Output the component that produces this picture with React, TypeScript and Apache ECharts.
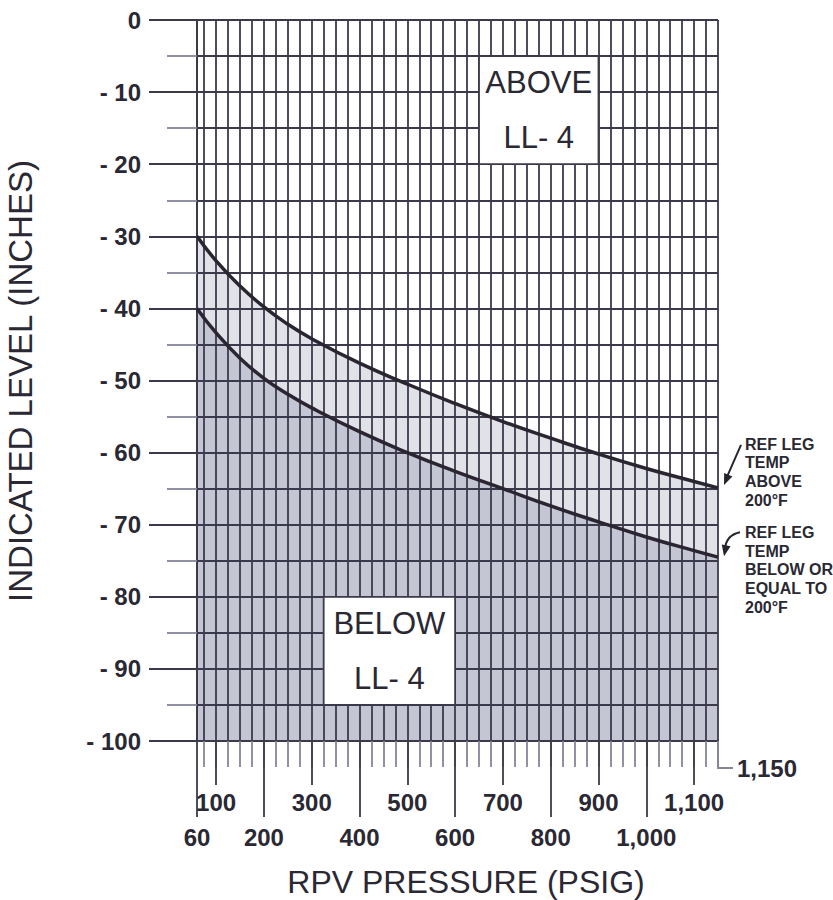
import React, { useEffect, useRef } from 'react';
import * as echarts from 'echarts';

// ---- data ----
const pressure = [60, 100, 150, 200, 250, 300, 400, 500, 600, 700, 800, 900, 1000, 1100, 1150];
const levelAbove200F = [-30, -33.4, -36.9, -39.8, -42.2, -44.2, -47.6, -50.5, -53.2, -55.7, -58.0, -60.2, -62.2, -64.0, -64.9];
const levelBelow200F = [-40, -43.4, -46.9, -49.7, -51.9, -53.8, -57.1, -60.0, -62.6, -65.0, -67.4, -69.6, -71.7, -73.6, -74.5];

// tick values
const gridPressures = [75, 100, 125, 150, 175, 200, 225, 250, 275, 300, 325, 350, 375, 400, 425, 450, 475, 500, 525, 550, 575, 600, 625, 650, 675, 700, 725, 750, 775, 800, 825, 850, 875, 900, 925, 950, 975, 1000, 1025, 1050, 1075, 1100, 1125, 1150];
const upperRowTicks = [100, 300, 500, 700, 900, 1100];
const lowerRowTicks = [60, 200, 400, 600, 800, 1000];
const endTick = [1150];

// region labels
const regionLabels = ['ABOVE\nLL- 4', 'BELOW\nLL- 4'];
const regionPressureRanges = [[650, 900], [325, 600]];
const regionLevelRanges = [[-5, -20], [-80, -95]];

const curveNotes = ['REF LEG\nTEMP\nABOVE\n200°F', 'REF LEG\nTEMP\nBELOW OR\nEQUAL TO\n200°F'];

const FONT = '"Liberation Sans", Arial, Helvetica, sans-serif';
const TEXT = '#2a2833';
const GRID = '#3a3a4c';
const LIGHT_TICK = '#85859a';

const fmt = (v: number) => v.toLocaleString('en-US');

export default function App() {
  const ref = useRef<HTMLDivElement>(null);
  useEffect(() => {
    if (!ref.current) return;
    const chart = echarts.init(ref.current, null, { renderer: 'svg' });
    const last = pressure.length - 1;

    const option: any = {
      animation: false,
      backgroundColor: '#ffffff',
      grid: { left: 197, right: 115, top: 20, bottom: 159, containLabel: false, outerBoundsMode: 'none' },
      xAxis: [
        {
          type: 'value', min: 60, max: 1150, position: 'bottom', z: 3,
          axisLine: { show: true, onZero: false, lineStyle: { color: GRID, width: 2 } },
          axisTick: { show: true, customValues: gridPressures, length: 26, lineStyle: { color: LIGHT_TICK, width: 1.8 } },
          axisLabel: { show: false },
          splitLine: { show: true, lineStyle: { color: GRID, width: 1.8 } },
        },
        {
          type: 'value', min: 60, max: 1150, position: 'bottom', z: 3,
          axisLine: { show: false, onZero: false },
          axisTick: { show: true, customValues: upperRowTicks, length: 44, lineStyle: { color: GRID, width: 1.8 } },
          axisLabel: {
            show: true, customValues: upperRowTicks, margin: 49, formatter: fmt,
            fontSize: 24, fontWeight: 'bold', fontFamily: FONT, color: TEXT,
          },
          splitLine: { show: false },
        },
        {
          type: 'value', min: 60, max: 1150, position: 'bottom', z: 3,
          axisLine: { show: false, onZero: false },
          axisTick: { show: true, customValues: lowerRowTicks, length: 76, lineStyle: { color: GRID, width: 1.8 } },
          axisLabel: {
            show: true, customValues: lowerRowTicks, margin: 84, formatter: fmt,
            fontSize: 24, fontWeight: 'bold', fontFamily: FONT, color: TEXT,
          },
          splitLine: { show: false },
        },
      ],
      yAxis: {
        type: 'value', min: -100, max: 0, interval: 10, z: 3,
        axisLine: { show: true, onZero: false, lineStyle: { color: GRID, width: 2 } },
        axisTick: { show: true, length: 48, lineStyle: { color: GRID, width: 1.8 } },
        minorTick: { show: true, splitNumber: 2, length: 30, lineStyle: { color: LIGHT_TICK, width: 1.8 } },
        splitLine: { show: true, lineStyle: { color: GRID, width: 1.8 } },
        minorSplitLine: { show: true, lineStyle: { color: GRID, width: 1.8 } },
        axisLabel: {
          margin: 56,
          formatter: (v: number) => (v === 0 ? '0' : '- ' + Math.abs(v)),
          fontSize: 24, fontWeight: 'bold', fontFamily: FONT, color: TEXT,
        },
      },
      graphic: [
        {
          type: 'text', x: 466, y: 882, z: 10,
          style: { text: 'RPV PRESSURE (PSIG)', fontSize: 32, fontFamily: FONT, fill: TEXT, align: 'center', verticalAlign: 'middle', textAlign: 'center', textVerticalAlign: 'middle' },
        },
        {
          type: 'text', x: 20, y: 381, rotation: Math.PI / 2, z: 10,
          style: { text: 'INDICATED LEVEL (INCHES)', fontSize: 33, fontFamily: FONT, fill: TEXT, align: 'center', verticalAlign: 'middle', textAlign: 'center', textVerticalAlign: 'middle' },
        },
      ],
      series: [
        {
          type: 'line', name: 'between', z: 1, silent: true, symbol: 'none', smooth: 0.5,
          data: pressure.map((p, i) => [p, levelAbove200F[i]]),
          lineStyle: { width: 0, opacity: 0 },
          areaStyle: { color: '#e1e1e8', opacity: 1, origin: 'start' },
        },
        {
          type: 'line', name: 'below', z: 1, silent: true, symbol: 'none', smooth: 0.5,
          data: pressure.map((p, i) => [p, levelBelow200F[i]]),
          lineStyle: { width: 0, opacity: 0 },
          areaStyle: { color: '#c4c6d4', opacity: 1, origin: 'start' },
        },
        {
          type: 'line', name: 'Ref leg temp above 200°F', z: 4, silent: true, symbol: 'none', smooth: 0.5,
          data: pressure.map((p, i) => [p, levelAbove200F[i]]),
          lineStyle: { color: '#2a2530', width: 3.5 },
        },
        {
          type: 'line', name: 'Ref leg temp below or equal to 200°F', z: 4, silent: true, symbol: 'none', smooth: 0.5,
          data: pressure.map((p, i) => [p, levelBelow200F[i]]),
          lineStyle: { color: '#2a2530', width: 3.5 },
        },
        {
          type: 'custom', name: 'regions', z: 6, silent: true, clip: false,
          data: regionPressureRanges.map((r, i) => [r[0], r[1], regionLevelRanges[i][0], regionLevelRanges[i][1]]),
          encode: { x: [0, 1], y: [2, 3] },
          renderItem: (params: any, api: any) => {
            const p1 = api.coord([api.value(0), api.value(2)]);
            const p2 = api.coord([api.value(1), api.value(3)]);
            const x = Math.min(p1[0], p2[0]);
            const y = Math.min(p1[1], p2[1]);
            const w = Math.abs(p2[0] - p1[0]);
            const h = Math.abs(p2[1] - p1[1]);
            return {
              type: 'group',
              children: [
                { type: 'rect', shape: { x, y, width: w, height: h }, style: { fill: '#ffffff', stroke: GRID, lineWidth: 1.8 } },
                {
                  type: 'text', x: x + w / 2, y: y + h / 2,
                  style: {
                    text: regionLabels[params.dataIndex], fontSize: 31, fontFamily: FONT, fill: TEXT,
                    align: 'center', verticalAlign: 'middle', lineHeight: 55,
                  },
                },
              ],
            };
          },
        },
        {
          type: 'custom', name: 'notes', z: 6, silent: true, clip: false,
          data: [[pressure[last], levelAbove200F[last]], [pressure[last], levelBelow200F[last]]],
          renderItem: (params: any, api: any) => {
            const p = api.coord([api.value(0), api.value(1)]);
            const i = params.dataIndex;
            const children: any[] = [];
            const head = (tx: number, ty: number, dx: number, dy: number) => {
              const len = Math.hypot(dx, dy);
              const ux = dx / len, uy = dy / len;
              const nx = -uy, ny = ux;
              const bx = tx - 11 * ux, by = ty - 11 * uy;
              return {
                type: 'polygon',
                shape: { points: [[tx, ty], [bx + 4.5 * nx, by + 4.5 * ny], [bx - 4.5 * nx, by - 4.5 * ny]] },
                style: { fill: '#26232c' },
              };
            };
            if (i === 0) {
              const tx = p[0] + 6, ty = p[1] - 3;
              const sx = p[0] + 23, sy = p[1] - 43;
              children.push({ type: 'line', shape: { x1: sx, y1: sy, x2: tx + 3, y2: ty - 8 }, style: { stroke: '#26232c', lineWidth: 2 } });
              children.push(head(tx, ty, tx - sx, ty - sy));
            } else {
              const tx = p[0] + 6, ty = p[1] - 1;
              children.push({
                type: 'bezierCurve',
                shape: { x1: p[0] + 22, y1: p[1] - 25, cpx1: p[0] + 12, cpy1: p[1] - 23, cpx2: p[0] + 8, cpy2: p[1] - 17, x2: p[0] + 7, y2: p[1] - 9 },
                style: { stroke: '#26232c', lineWidth: 2, fill: null },
              });
              children.push(head(tx, ty, -0.2, 1));
            }
            children.push({
              type: 'text', x: p[0] + 27, y: p[1] + (i === 0 ? -53 : -34),
              style: {
                text: curveNotes[i], fontSize: 16, fontWeight: 'bold', fontFamily: FONT, fill: TEXT,
                align: 'left', verticalAlign: 'top', lineHeight: 18.7,
              },
            });
            return { type: 'group', children };
          },
        },
        {
          type: 'custom', name: 'end tick', z: 6, silent: true, clip: false,
          data: endTick.map((v) => [v, -100]),
          renderItem: (params: any, api: any) => {
            const p = api.coord([api.value(0), api.value(1)]);
            return {
              type: 'group',
              children: [
                { type: 'polyline', shape: { points: [[p[0], p[1]], [p[0], p[1] + 27], [p[0] + 15, p[1] + 27]] }, style: { stroke: LIGHT_TICK, lineWidth: 1.8, fill: null } },
                {
                  type: 'text', x: p[0] + 19, y: p[1] + 27,
                  style: { text: fmt(api.value(0)), fontSize: 24, fontWeight: 'bold', fontFamily: FONT, fill: TEXT, align: 'left', verticalAlign: 'middle' },
                },
              ],
            };
          },
        },
      ],
    };

    chart.setOption(option);
    return () => chart.dispose();
  }, []);

  return (
    <div
      ref={ref}
      style={{ position: 'fixed', left: 0, top: 0, width: 833, height: 900, background: '#ffffff' }}
    />
  );
}
